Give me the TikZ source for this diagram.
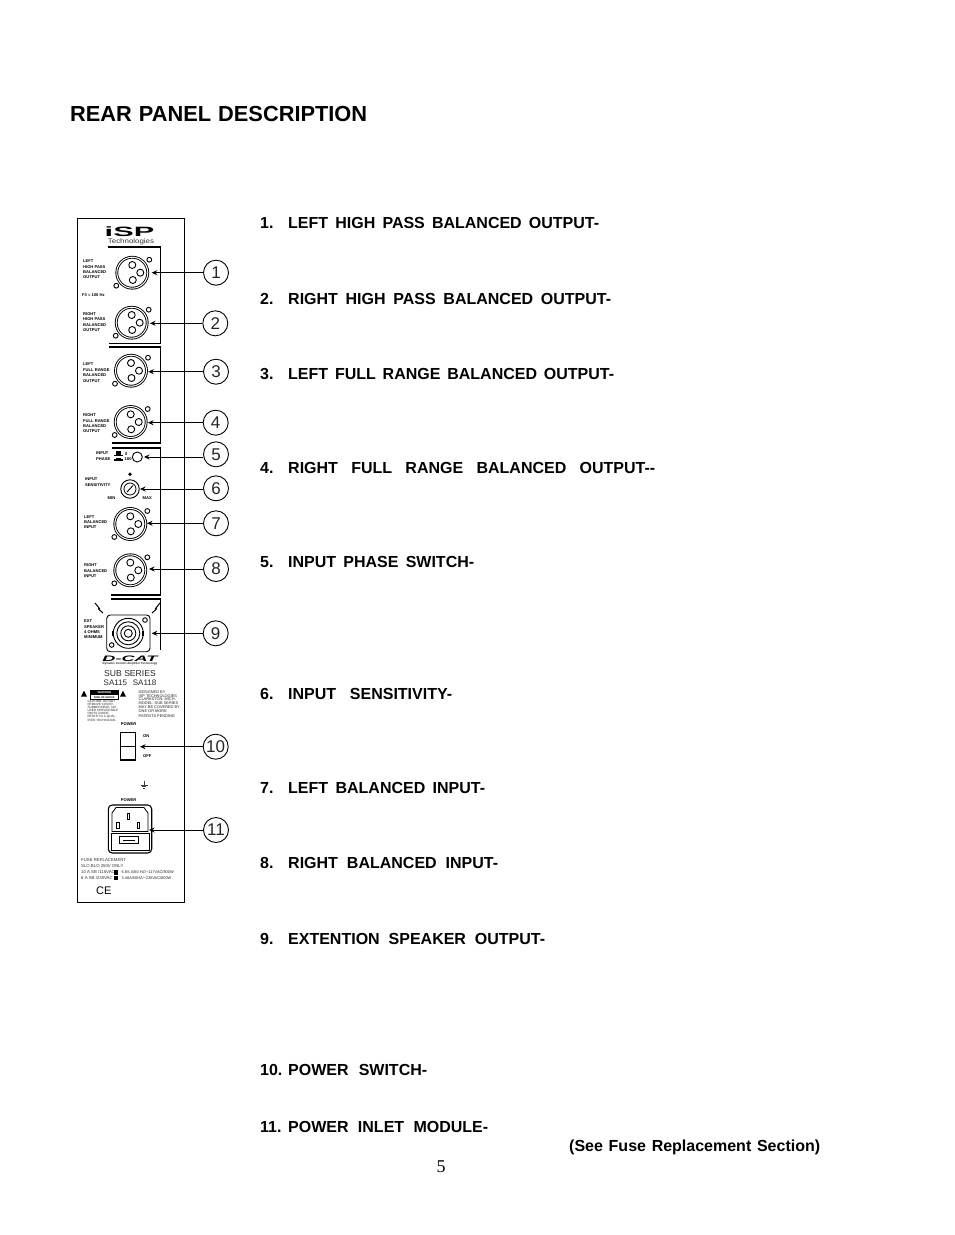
\documentclass[tikz,border=0pt]{standalone}
\usepackage{fontspec}
\setmainfont{Liberation Sans}
\newfontfamily\timesfont{Liberation Serif}
\usetikzlibrary{arrows.meta}
\tikzset{
  x=1pt,y=-1pt,
  lbl/.style={anchor=base west,inner sep=0pt,font=\fontsize{16}{17}\bfseries},
  tiny/.style={anchor=west,inner sep=0pt,font=\fontsize{4.1}{4.5}\bfseries,text=black},
  small/.style={anchor=west,inner sep=0pt,font=\fontsize{3.9}{4}\selectfont,text=black!85},
  fuset/.style={anchor=west,inner sep=0pt,font=\fontsize{4.3}{5}\selectfont,text=black!80},
  callout/.style={circle,draw,line width=0.9pt,minimum size=25pt,inner sep=0pt,font=\fontsize{17}{18}\selectfont,text=black!85},
  conn/.style={line width=1pt,-{Stealth[length=5.5pt,width=5pt]}},
  pan/.style={line width=1.2pt},
  xlrbody/.style={circle,draw,line width=0.9pt,minimum size=31pt,inner sep=0pt,double,double distance=1pt},
  hole/.style={draw,line width=0.9pt},
}
\newcommand{\xlr}[3]{%
  \node[xlrbody] (#1) at (#2,#3) {};
  \draw[hole] (#2,#3-7.7) circle (3.5);
  \draw[hole] (#2+8,#3) circle (3.5);
  \draw[hole] (#2+0.5,#3+7.3) circle (3.5);
  \draw[hole] (#2+17,#3-13) circle (2.4);
  \draw[hole] (#2-16,#3+13) circle (2.4);
}
\newcommand{\lines}[3]{\node[tiny] at (#1,#2) {#3};}
\begin{document}
\begin{tikzpicture}
\useasboundingbox (0,0) rectangle (954,1235);
\fill[white] (0,0) rectangle (954,1235);
\node[anchor=base west,inner sep=0pt,font=\fontsize{21.8}{24}\bfseries] (title) at (70,121.5) {\makebox[297pt][s]{REAR PANEL DESCRIPTION}};

\node[lbl] (t1) at (260,228) {\makebox[28pt][l]{1.}\makebox[311pt][s]{LEFT HIGH PASS BALANCED OUTPUT-}};
\node[lbl] (t2) at (260,304) {\makebox[28pt][l]{2.}\makebox[323pt][s]{RIGHT HIGH PASS BALANCED OUTPUT-}};
\node[lbl] (t3) at (260,379) {\makebox[28pt][l]{3.}\makebox[326pt][s]{LEFT FULL RANGE BALANCED OUTPUT-}};
\node[lbl] (t4) at (260,473) {\makebox[28pt][l]{4.}\makebox[367pt][s]{RIGHT FULL RANGE BALANCED OUTPUT-{}-}};
\node[lbl] (t5) at (260,567) {\makebox[28pt][l]{5.}\makebox[186pt][s]{INPUT PHASE SWITCH-}};
\node[lbl] (t6) at (260,699) {\makebox[28pt][l]{6.}\makebox[164pt][s]{INPUT SENSITIVITY-}};
\node[lbl] (t7) at (260,793) {\makebox[28pt][l]{7.}\makebox[197pt][s]{LEFT BALANCED INPUT-}};
\node[lbl] (t8) at (260,868) {\makebox[28pt][l]{8.}\makebox[210pt][s]{RIGHT BALANCED INPUT-}};
\node[lbl] (t9) at (260,944) {\makebox[28pt][l]{9.}\makebox[257pt][s]{EXTENTION SPEAKER OUTPUT-}};
\node[lbl] (t10) at (260,1075) {\makebox[28pt][l]{10.}\makebox[139pt][s]{POWER SWITCH-}};
\node[lbl] (t11) at (260,1132) {\makebox[28pt][l]{11.}\makebox[200pt][s]{POWER INLET MODULE-}};
\node[lbl] (fuse) at (569,1151) {\makebox[251pt][s]{(See Fuse Replacement Section)}};
\node[inner sep=0pt,font=\timesfont\fontsize{18}{20}\selectfont] (page) at (441,1167) {5};

% panel
\node[draw,line width=1.3pt,minimum width=107pt,minimum height=684pt,inner sep=0pt,anchor=north west] (panel) at (77,218) {};
\node[inner sep=0pt,font=\fontsize{15}{16}\bfseries] (logo) at (129.5,232) {\scalebox{2.05}[0.9]{iSP}};
\node[inner sep=0pt,font=\fontsize{6.6}{8}\selectfont,text=black!80] (tech) at (131,242) {\scalebox{1.2}[1]{Technologies}};
\draw[pan] (108,247) -- (160.5,247) -- (160.5,343.5) -- (109,343.5);
\draw[pan] (109,347) -- (160.5,347) -- (160.5,443) -- (112,443);
\draw[pan] (112,448) -- (160.5,448) -- (160.5,595) -- (111,595);
\draw[pan] (111,599) -- (160.5,599) -- (160.5,650);

% XLRs
\xlr{xa}{132.3}{272.7}
\xlr{xb}{131.7}{322.7}
\xlr{xc}{131}{370.7}
\xlr{xd}{130.7}{422}
\xlr{xg}{130.3}{524}
\xlr{xh}{130.3}{570.3}

% small labels
\lines{83}{261}{LEFT}\lines{83}{266.7}{HIGH PASS}\lines{83}{272}{BALANCED}\lines{83}{277}{OUTPUT}
\lines{82}{295}{F3 = 100 Hz}
\lines{83}{314}{RIGHT}\lines{83}{319.3}{HIGH PASS}\lines{83}{325}{BALANCED}\lines{83}{330.3}{OUTPUT}
\lines{83}{364.3}{LEFT}\lines{83}{370}{FULL RANGE}\lines{83}{375.3}{BALANCED}\lines{83}{380.7}{OUTPUT}
\lines{83}{415.3}{RIGHT}\lines{83}{420.7}{FULL RANGE}\lines{83}{426.3}{BALANCED}\lines{83}{431.3}{OUTPUT}

% phase switch
\lines{96}{453.3}{INPUT}\lines{96}{459}{PHASE}
\fill (115.5,451) rectangle (120.5,454.5); \fill (113.5,454.5) rectangle (122.5,455.5);
\fill (115.5,458) rectangle (120.5,459); \fill (113.5,459) rectangle (122.5,461);
\lines{125}{454}{0}\lines{124.5}{459.5}{180}
\node[circle,draw,line width=0.9pt,minimum size=10pt,inner sep=0pt] (phase) at (137.3,457) {};

% sensitivity
\lines{85}{479}{INPUT}\lines{85}{484.7}{SENSITIVITY}
\fill (130,474.3) circle (1.9);
\node[circle,draw,line width=0.9pt,minimum size=18.5pt,inner sep=0pt] (knob) at (130,489) {};
\draw[line width=0.8pt] (130,489) circle (6);
\draw[line width=0.9pt] (127,492) -- (133,485.5);
\lines{107.5}{498.3}{MIN}\lines{142.5}{498.3}{MAX}

\lines{84}{516.7}{LEFT}\lines{84}{522}{BALANCED}\lines{84}{527.3}{INPUT}
\lines{84}{565.3}{RIGHT}\lines{84}{570.7}{BALANCED}\lines{84}{576}{INPUT}

% speakon
\lines{84}{621}{EXT}\lines{84}{626.7}{SPEAKER}\lines{84}{632}{4 OHMS}\lines{84}{637.3}{MINIMUM}
\draw[line width=0.9pt,rounded corners=3.5pt] (106.7,615) rectangle (150,651.7);
\node[circle,draw,line width=0.9pt,minimum size=30pt,inner sep=0pt] (spk) at (128.3,633.3) {};
\draw[line width=0.9pt] (128.3,633.3) circle (11.5) circle (7.5) circle (4);
\fill (112.2,631) rectangle (114.2,636); \fill (142.4,631) rectangle (144.4,636);
\draw[hole] (145,620) circle (2.3);
\draw[hole] (111.7,645) circle (2.3);
\draw[line width=1pt] (95,603) -- (99.5,608.5) -- (98.5,609) -- (103,613);
\draw[line width=1pt] (160,603) -- (155.5,608.5) -- (156.5,609) -- (152,613);

% D-CAT
\node[inner sep=0pt,font=\fontsize{11}{12}\bfseries\itshape] (dcat) at (130,658.3) {\scalebox{1.65}[0.72]{D-CAT}};
\node[inner sep=0pt,font=\fontsize{2.95}{4}\bfseries,text=black!85] (tag) at (130,664) {Dynamic Current Amplifier Technology};
\node[inner sep=0pt,font=\fontsize{8.6}{9}\selectfont,text=black!85] (sub) at (130,673.5) {SUB SERIES};
\node[inner sep=0pt,font=\fontsize{8}{9}\selectfont,text=black!85] (sa) at (130,682.7) {SA115\hspace{3.5pt} SA118};
\fill (81,696.5) -- (84,690.5) -- (87,696.5) -- cycle;
\fill (120,696.5) -- (123,690.5) -- (126,696.5) -- cycle;
\node[draw,line width=0.7pt,minimum width=27.5pt,minimum height=8.6pt,inner sep=0pt] (warn) at (104.5,695) {};
\fill (warn.north west) rectangle (warn.east);
\node[inner sep=0pt,font=\fontsize{2.8}{3}\bfseries,text=white] (warnhead) at (104.5,692.9) {WARNING};
\node[inner sep=0pt,font=\fontsize{2.6}{3}\bfseries] (warnsub) at (104.5,697.2) {RISK OF SHOCK};
\foreach \yy/\txt in {701.5/CAUTION: DO NOT,704.6/REMOVE COVER.,707.7/SUBMERSIBLE. NO,710.8/USER SERVICEABLE,713.9/PARTS INSIDE.,717/REFER TO A QUAL-,720/IFIED TECHNICIAN.}{\node[small,font=\fontsize{3.1}{4}\selectfont] at (87.3,\yy) {\txt};}
\foreach \yy/\txt in {691.7/DESIGNED BY,695.7/ISP TECHNOLOGIES,699.5/{CLARKSTON, MICH.},703.3/MODEL: SUB SERIES,707.3/MAY BE COVERED BY,711.5/ONE OR MORE,715.7/PATENTS PENDING}{\node[small] at (138.5,\yy) {\txt};}

% power switch
\lines{120.7}{724.5}{POWER}
\node[draw,line width=1.1pt,minimum width=15.5pt,minimum height=27.5pt,inner sep=0pt] (sw) at (128,746.2) {};
\draw[line width=1.1pt] (sw.west) -- (sw.east);
\lines{143}{736}{ON}\lines{143}{756}{OFF}

% ground
\draw[line width=0.45pt,black!75] (144,780.5) -- (144,785) (140.5,785) -- (147.5,785) (141.7,786.5) -- (146.3,786.5) (143,788) -- (145,788);

% IEC inlet
\lines{120.7}{800}{POWER}
\draw[line width=1.1pt,rounded corners=4pt] (108.3,853) -- (108.3,805) -- (151.7,805) -- (151.7,853) -- cycle;
\draw[line width=0.8pt] (112,831.5) -- (112,813) -- (116,807.5) -- (144,807.5) -- (148,813) -- (148,831.5) -- cycle;
\node[draw,line width=0.9pt,minimum width=38pt,minimum height=17.5pt,inner sep=0pt] (drawer) at (130,842) {};
\node[draw,line width=0.9pt,minimum width=19pt,minimum height=6.5pt,inner sep=0pt] (fusebox) at (129,840) {};
\draw[line width=0.6pt] (123,840) -- (135,840);
\draw[line width=0.9pt] (127,813.5) rectangle (129.6,819.5);
\draw[line width=0.9pt] (116.5,822) rectangle (119,828);
\draw[line width=0.9pt] (137,822) rectangle (139.6,828);
\node[fuset] at (81,860.3) {FUSE REPLACEMENT};
\node[fuset] at (81,865.7) {SLO BLO 250V ONLY};
\node[fuset] at (81,871.7) {10 A SB /115VAC};
\node[fuset] at (81,877.7) {6 A SB /230VAC};
\fill (113.8,870) rectangle (118.2,874.8);
\fill (113.8,875.8) rectangle (118.2,880.4);
\node[small] at (121.5,871.7) {6.8S A/60 HZ/\textasciitilde 117VAC/800W};
\node[small] at (121.5,878.5) {3.48A/50HZ/\textasciitilde 230VAC/800W};
\node[inner sep=0pt,font=\fontsize{11}{12}\selectfont] (ce) at (103.8,890.5) {CE};

% callouts
\foreach \n/\px/\py in {1/216/272.7,2/215.3/323.3,3/216/371.7,4/215.7/422.7,5/216/454.3,6/216/488.3,7/216/523.3,8/216/569,9/215.7/633.3,10/215.7/746.7,11/216/830}{
  \node[callout] (c\n) at (\px,\py) {\n};
}
\coordinate (e1) at (151.7,272.7);
\coordinate (e2) at (150,323.3);
\coordinate (e3) at (148.3,371.7);
\coordinate (e4) at (148,422.7);
\coordinate (e5) at (144,457);
\coordinate (e6) at (140,489);
\coordinate (e7) at (147,523.3);
\coordinate (e8) at (149,569);
\coordinate (e9) at (151.7,633.3);
\coordinate (e10) at (140,746.7);
\coordinate (e11) at (149,830);
\foreach \n in {1,...,11}{\draw[conn] (c\n.west |- e\n) -- (e\n);}
\end{tikzpicture}
\end{document}
